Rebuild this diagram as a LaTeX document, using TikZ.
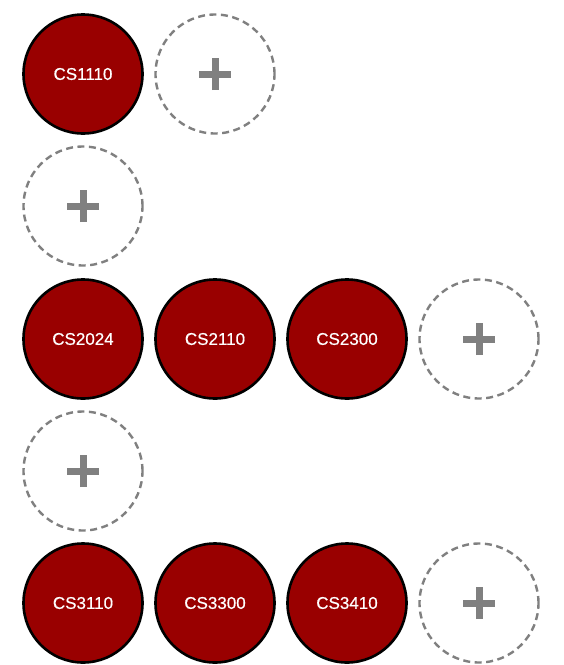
\documentclass[tikz,border=0pt]{standalone}
\usepackage{fontspec}
\setmainfont{Liberation Sans}
\newfontfamily\medfont[FakeBold=0.5]{Liberation Sans}
\definecolor{course}{HTML}{990000}
\definecolor{addgray}{HTML}{808080}
\begin{document}
\begin{tikzpicture}[x=1pt,y=-1pt,
  coursenode/.style={circle,draw=black,line width=2.6pt,fill=course,minimum size=119pt,inner sep=0pt,text=white,font=\medfont\fontsize{17}{19}\selectfont},
  addnode/.style={circle,draw=addgray,line width=2.4pt,dash pattern=on 7pt off 4.5pt,minimum size=119pt,inner sep=0pt},
  plusbar/.style={draw=addgray,line width=7pt}]
\useasboundingbox (0,0) rectangle (564,665);
\newcommand{\plusmark}[1]{%
  \draw[plusbar] ([xshift=-16pt]#1.center) -- ([xshift=16pt]#1.center);
  \draw[plusbar] ([yshift=-16pt]#1.center) -- ([yshift=16pt]#1.center);}
% row 1
\node[coursenode] (c1110) at (83,74) {CS1110};
\node[addnode] (a1) at (215,74) {};
\plusmark{a1}
% row 2
\node[addnode] (a2) at (83,206) {};
\plusmark{a2}
% row 3
\node[coursenode] (c2024) at (83,339) {CS2024};
\node[coursenode] (c2110) at (215,339) {CS2110};
\node[coursenode] (c2300) at (347,339) {CS2300};
\node[addnode] (a3) at (479,339) {};
\plusmark{a3}
% row 4
\node[addnode] (a4) at (83,471) {};
\plusmark{a4}
% row 5
\node[coursenode] (c3110) at (83,603) {CS3110};
\node[coursenode] (c3300) at (215,603) {CS3300};
\node[coursenode] (c3410) at (347,603) {CS3410};
\node[addnode] (a5) at (479,603) {};
\plusmark{a5}
\end{tikzpicture}
\end{document}
